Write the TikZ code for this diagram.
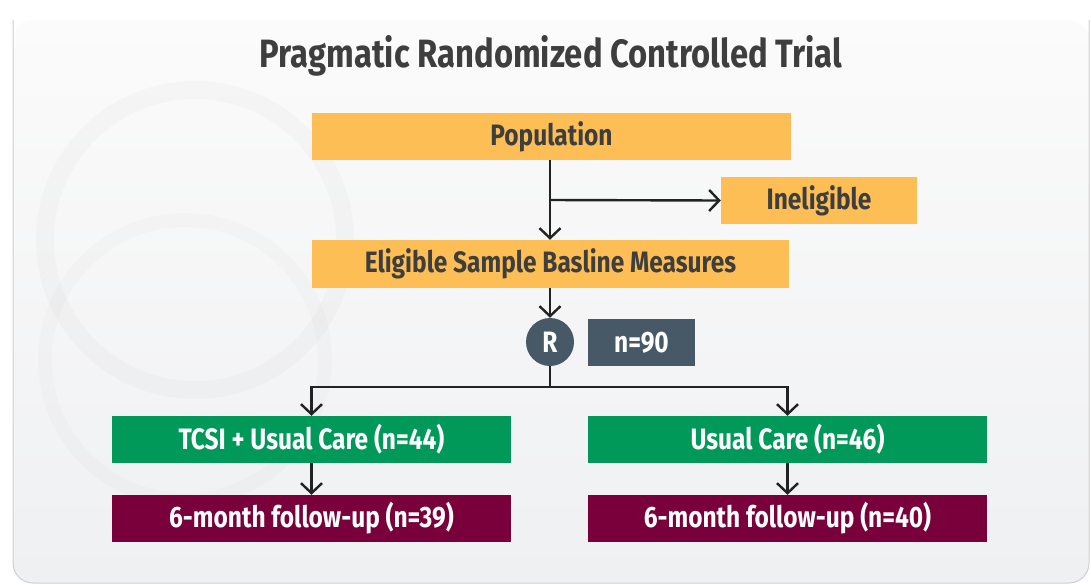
\documentclass[tikz,border=0pt]{standalone}
\usepackage{fontspec}
\setmainfont{Fira Sans}
\newfontfamily\condfont[FakeStretch=0.83]{Fira Sans}
\usetikzlibrary{arrows.meta}
\definecolor{panelTop}{HTML}{FBFBFB}
\definecolor{panelBot}{HTML}{EFF0F2}
\definecolor{panelEdge}{HTML}{CDD0D4}
\definecolor{orangeBox}{HTML}{FDBE55}
\definecolor{greenBox}{HTML}{00995A}
\definecolor{maroonBox}{HTML}{79003A}
\definecolor{slateBox}{HTML}{475866}
\definecolor{darkText}{HTML}{3E3E3E}
\definecolor{lineCol}{HTML}{222222}
\tikzset{
  boxbase/.style={rectangle, inner sep=0pt, font=\condfont\bfseries\fontsize{29.5}{32}\selectfont},
  orangebox/.style={boxbase, fill=orangeBox, text=darkText},
  greenbox/.style={boxbase, fill=greenBox, text=white, minimum width=399pt, minimum height=47pt},
  maroonbox/.style={boxbase, fill=maroonBox, text=white, minimum width=399pt, minimum height=47pt},
  conn/.style={draw=lineCol, line width=2.4pt},
  arr/.style={conn, -{Straight Barb[length=10pt, width=21pt, line width=2.4pt]}},
}
\begin{document}
\begin{tikzpicture}[x=1pt, y=-1pt]
\useasboundingbox (0,0) rectangle (1091,584);
\fill[white] (0,0) rectangle (1091,584);
% panel
\shade[top color=panelTop, bottom color=panelBot, rounded corners=20pt]
  (13,20) rectangle (1089,583);
\draw[panelEdge, line width=1pt, rounded corners=20pt]
  (13,20) -- (13,583) -- (1089,583) -- (1089,20);
% faint watermark
\begin{scope}
\clip (14,21) rectangle (1088,582);
\draw[black, opacity=0.02, line width=18pt] (195,240) circle (150pt);
\draw[black, opacity=0.015, line width=14pt] (185,360) circle (140pt);
\end{scope}
% title
\node (title) at (551,56) {\condfont\bfseries\fontsize{39.5}{42}\selectfont\color{darkText}Pragmatic Randomized Controlled Trial};
% nodes
\node[orangebox, minimum width=479pt, minimum height=47pt] (pop) at (551.5,136.5) {Population};
\node[orangebox, minimum width=196pt, minimum height=47pt] (inel) at (819,200.5) {Ineligible};
\node[orangebox, minimum width=477pt, minimum height=48pt] (elig) at (550.5,264) {Eligible Sample Basline Measures};
\node[boxbase, circle, fill=slateBox, text=white, minimum size=48pt] (R) at (550,342) {R};
\node[boxbase, fill=slateBox, text=white, minimum width=107pt, minimum height=47pt] (n90) at (641.5,342.5) {n=90};
\node[greenbox] (tcsi) at (311.5,439.5) {TCSI + Usual Care (n=44)};
\node[greenbox] (uc) at (787.5,439.5) {Usual Care (n=46)};
\node[maroonbox] (fl) at (311.5,518.5) {6-month follow-up (n=39)};
\node[maroonbox] (fr) at (787.5,518.5) {6-month follow-up (n=40)};
% connectors
\coordinate (br) at (550,200);
\coordinate (split) at (550,387);
\draw[arr] (pop.south -| br) -- (elig.north -| br);
\draw[arr] (br) -- (inel.west);
\draw[arr] (elig.south -| R) -- (R.north);
\draw[conn] (R.south) -- (split);
\draw[arr] (split) -| (tcsi.north);
\draw[arr] (split) -| (uc.north);
\draw[arr] (tcsi.south) -- (fl.north);
\draw[arr] (uc.south) -- (fr.north);
\end{tikzpicture}
\end{document}
